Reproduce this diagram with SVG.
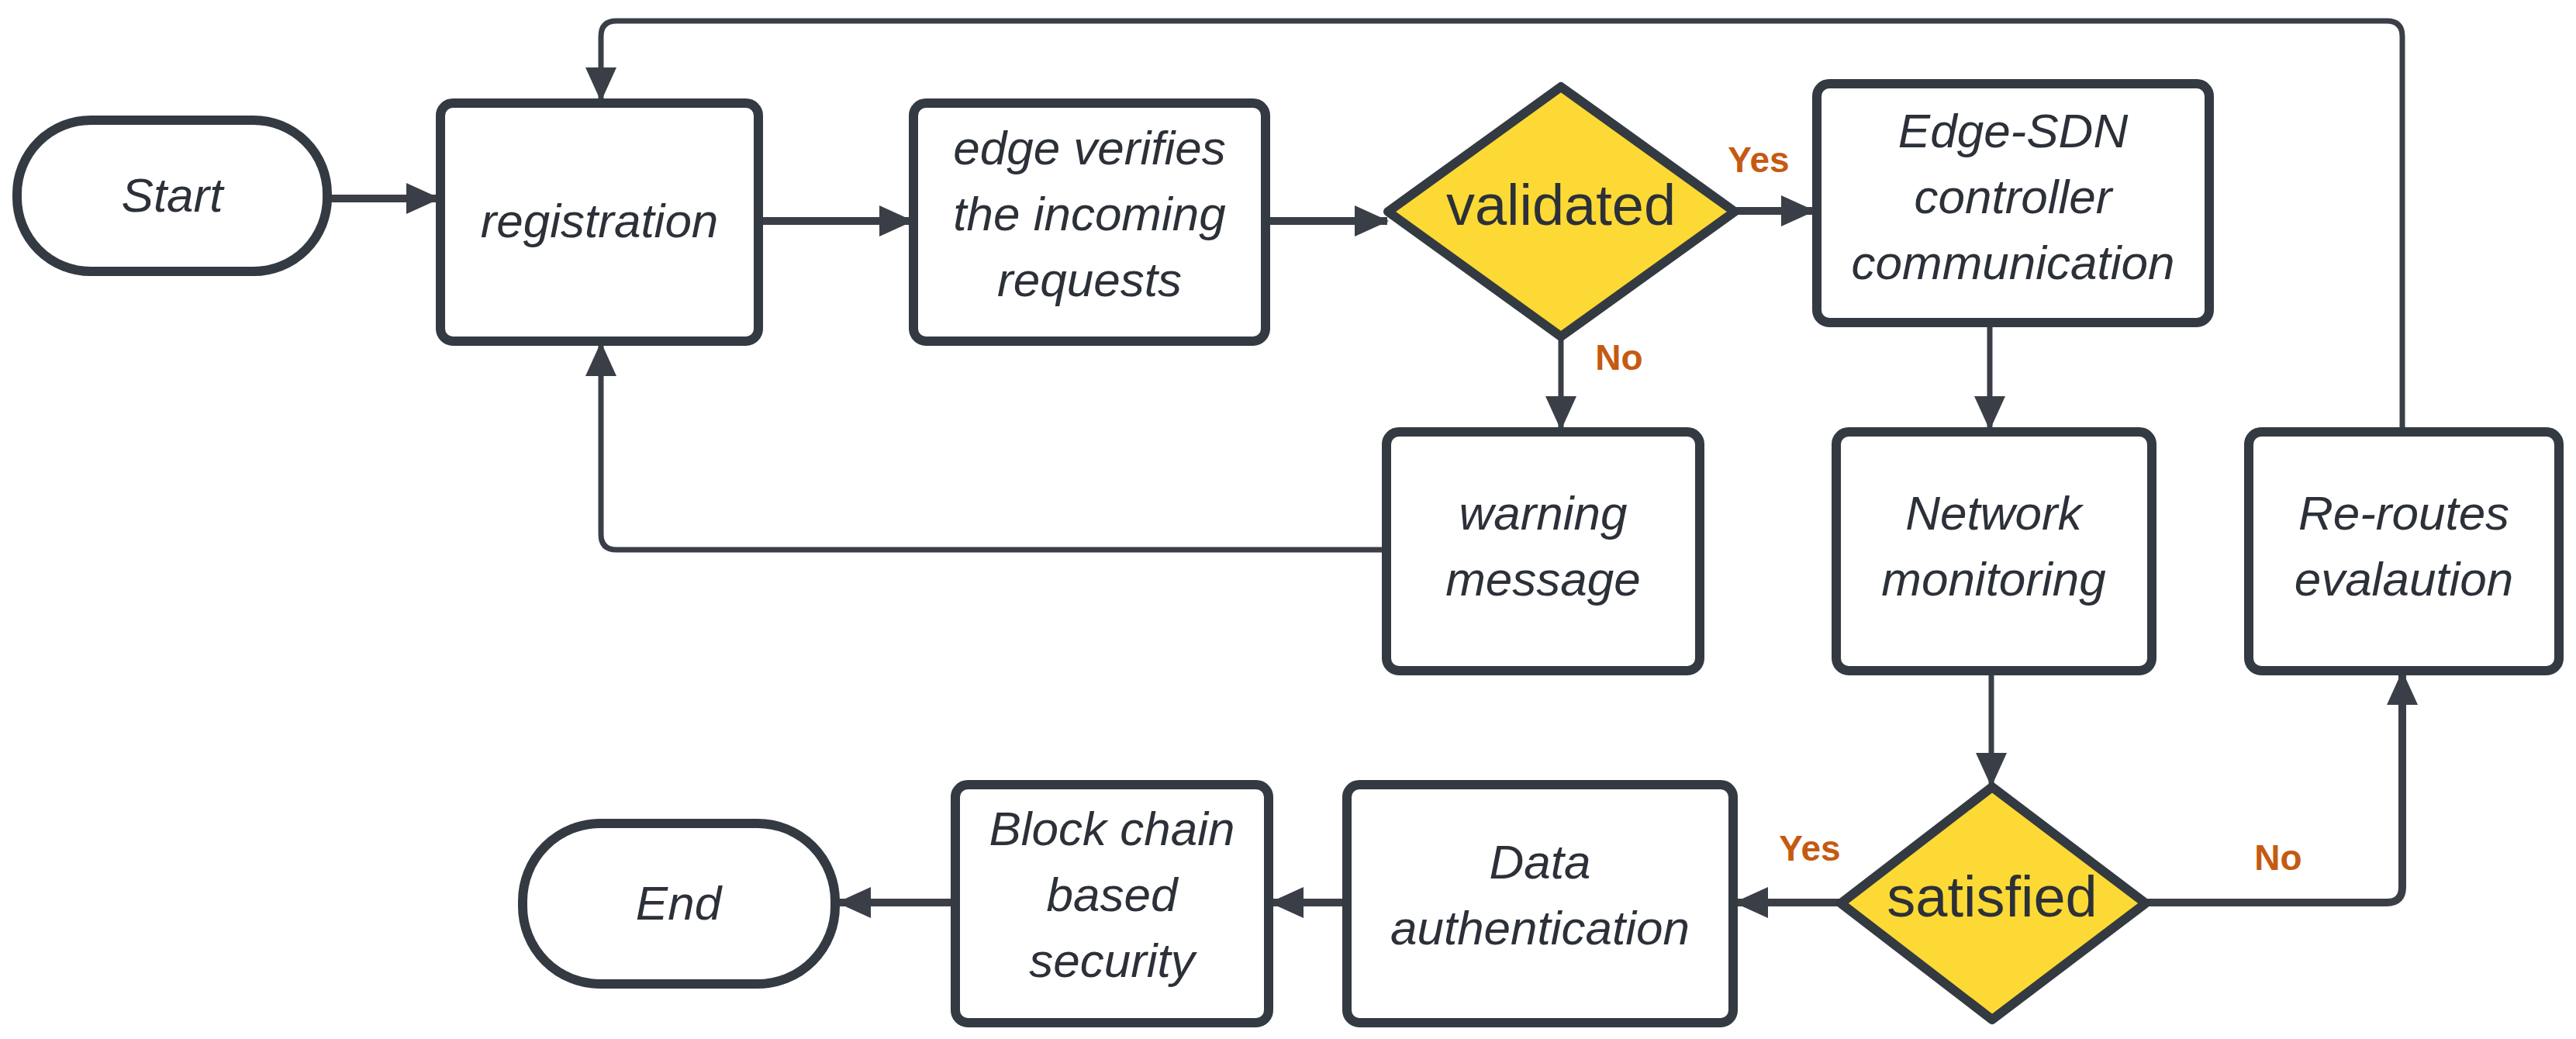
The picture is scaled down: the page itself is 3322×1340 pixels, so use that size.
<svg xmlns="http://www.w3.org/2000/svg" width="3322" height="1340" viewBox="0 0 3322 1340">
<style>
.b{fill:#fff;stroke:#343a42;stroke-width:12}
.d{fill:#fcd934;stroke:#343a42;stroke-width:12;stroke-linejoin:round}
.t{font-family:"Liberation Sans",Arial,sans-serif;font-style:italic;font-size:62px;fill:#2c3038;text-anchor:middle}
.v{font-family:"Liberation Sans",Arial,sans-serif;font-size:74px;fill:#2c3038;text-anchor:middle}
.l{font-family:"Liberation Sans",Arial,sans-serif;font-weight:bold;font-size:46px;fill:#c55a11;text-anchor:middle}
.c{fill:none;stroke:#3a3f47;stroke-width:10;stroke-linejoin:round}
.c2{fill:none;stroke:#3a3f47;stroke-width:7;stroke-linejoin:round}
</style>
<defs>
<marker id="a" markerUnits="userSpaceOnUse" markerWidth="44" markerHeight="44" viewBox="0 0 44 44" refX="42" refY="22" orient="auto"><path d="M0,2 L44,22 L0,42 Z" fill="#3a3f47"/></marker>
</defs>
<rect width="3322" height="1340" fill="#fff"/>
<g id="connectors">
<path class="c" d="M426,256 H566" marker-end="url(#a)"/>
<path class="c" d="M982,285 H1176" marker-end="url(#a)"/>
<path class="c" d="M1636,285 H1789" marker-end="url(#a)"/>
<path class="c" d="M2238,272 H2339" marker-end="url(#a)"/>
<path class="c2" d="M2013,437 V553" marker-end="url(#a)"/>
<path class="c2" d="M2566,420 V553" marker-end="url(#a)"/>
<path class="c2" d="M1786,709 H795 Q775,709 775,689 V443" marker-end="url(#a)"/>
<path class="c2" d="M3098,553 V47 Q3098,27 3078,27 H795 Q775,27 775,47 V129" marker-end="url(#a)"/>
<path class="c2" d="M2568,868 V1013" marker-end="url(#a)"/>
<path class="c" d="M2768,1164 H3078 Q3098,1164 3098,1144 V867" marker-end="url(#a)"/>
<path class="c" d="M2373,1164 H2238" marker-end="url(#a)"/>
<path class="c" d="M1735,1164 H1639" marker-end="url(#a)"/>
<path class="c" d="M1230,1164 H1081" marker-end="url(#a)"/>
</g>
<g id="start"><rect class="b" x="22" y="155" width="400" height="195" rx="95"/><text class="t" x="222" y="273">Start</text></g>
<g id="registration"><rect class="b" x="568" y="133" width="410" height="307" rx="16"/><text class="t" x="773" y="306">registration</text></g>
<g id="verify"><rect class="b" x="1178" y="133" width="454" height="307" rx="16"/><text class="t" x="1405" y="212">edge verifies</text><text class="t" x="1405" y="297">the incoming</text><text class="t" x="1405" y="382">requests</text></g>
<g id="validated"><path class="d" d="M2013,112 L2237,273 L2013,434 L1790,273 Z"/><text class="v" x="2013" y="290">validated</text></g>
<g id="edgesdn"><rect class="b" x="2343" y="108" width="506" height="308" rx="16"/><text class="t" x="2596" y="190">Edge-SDN</text><text class="t" x="2596" y="275">controller</text><text class="t" x="2596" y="360">communication</text></g>
<g id="warning"><rect class="b" x="1788" y="557" width="404" height="308" rx="16"/><text class="t" x="1990" y="683">warning</text><text class="t" x="1990" y="768">message</text></g>
<g id="network"><rect class="b" x="2368" y="557" width="407" height="308" rx="16"/><text class="t" x="2571" y="683">Network</text><text class="t" x="2571" y="768">monitoring</text></g>
<g id="reroutes"><rect class="b" x="2900" y="557" width="400" height="308" rx="16"/><text class="t" x="3100" y="683">Re-routes</text><text class="t" x="3100" y="768">evalaution</text></g>
<g id="satisfied"><path class="d" d="M2569,1015 L2767,1165 L2569,1315 L2374,1165 Z"/><text class="v" x="2569" y="1182">satisfied</text></g>
<g id="dataauth"><rect class="b" x="1737" y="1012" width="498" height="307" rx="16"/><text class="t" x="1986" y="1133">Data</text><text class="t" x="1986" y="1218">authentication</text></g>
<g id="blockchain"><rect class="b" x="1232" y="1012" width="404" height="307" rx="16"/><text class="t" x="1434" y="1090">Block chain</text><text class="t" x="1434" y="1175">based</text><text class="t" x="1434" y="1260">security</text></g>
<g id="end"><rect class="b" x="674" y="1062" width="403" height="207" rx="100"/><text class="t" x="875" y="1186">End</text></g>
<g id="labels"><text class="l" x="2268" y="222">Yes</text><text class="l" x="2088" y="477">No</text><text class="l" x="2334" y="1110">Yes</text><text class="l" x="2938" y="1122">No</text></g>
</svg>
